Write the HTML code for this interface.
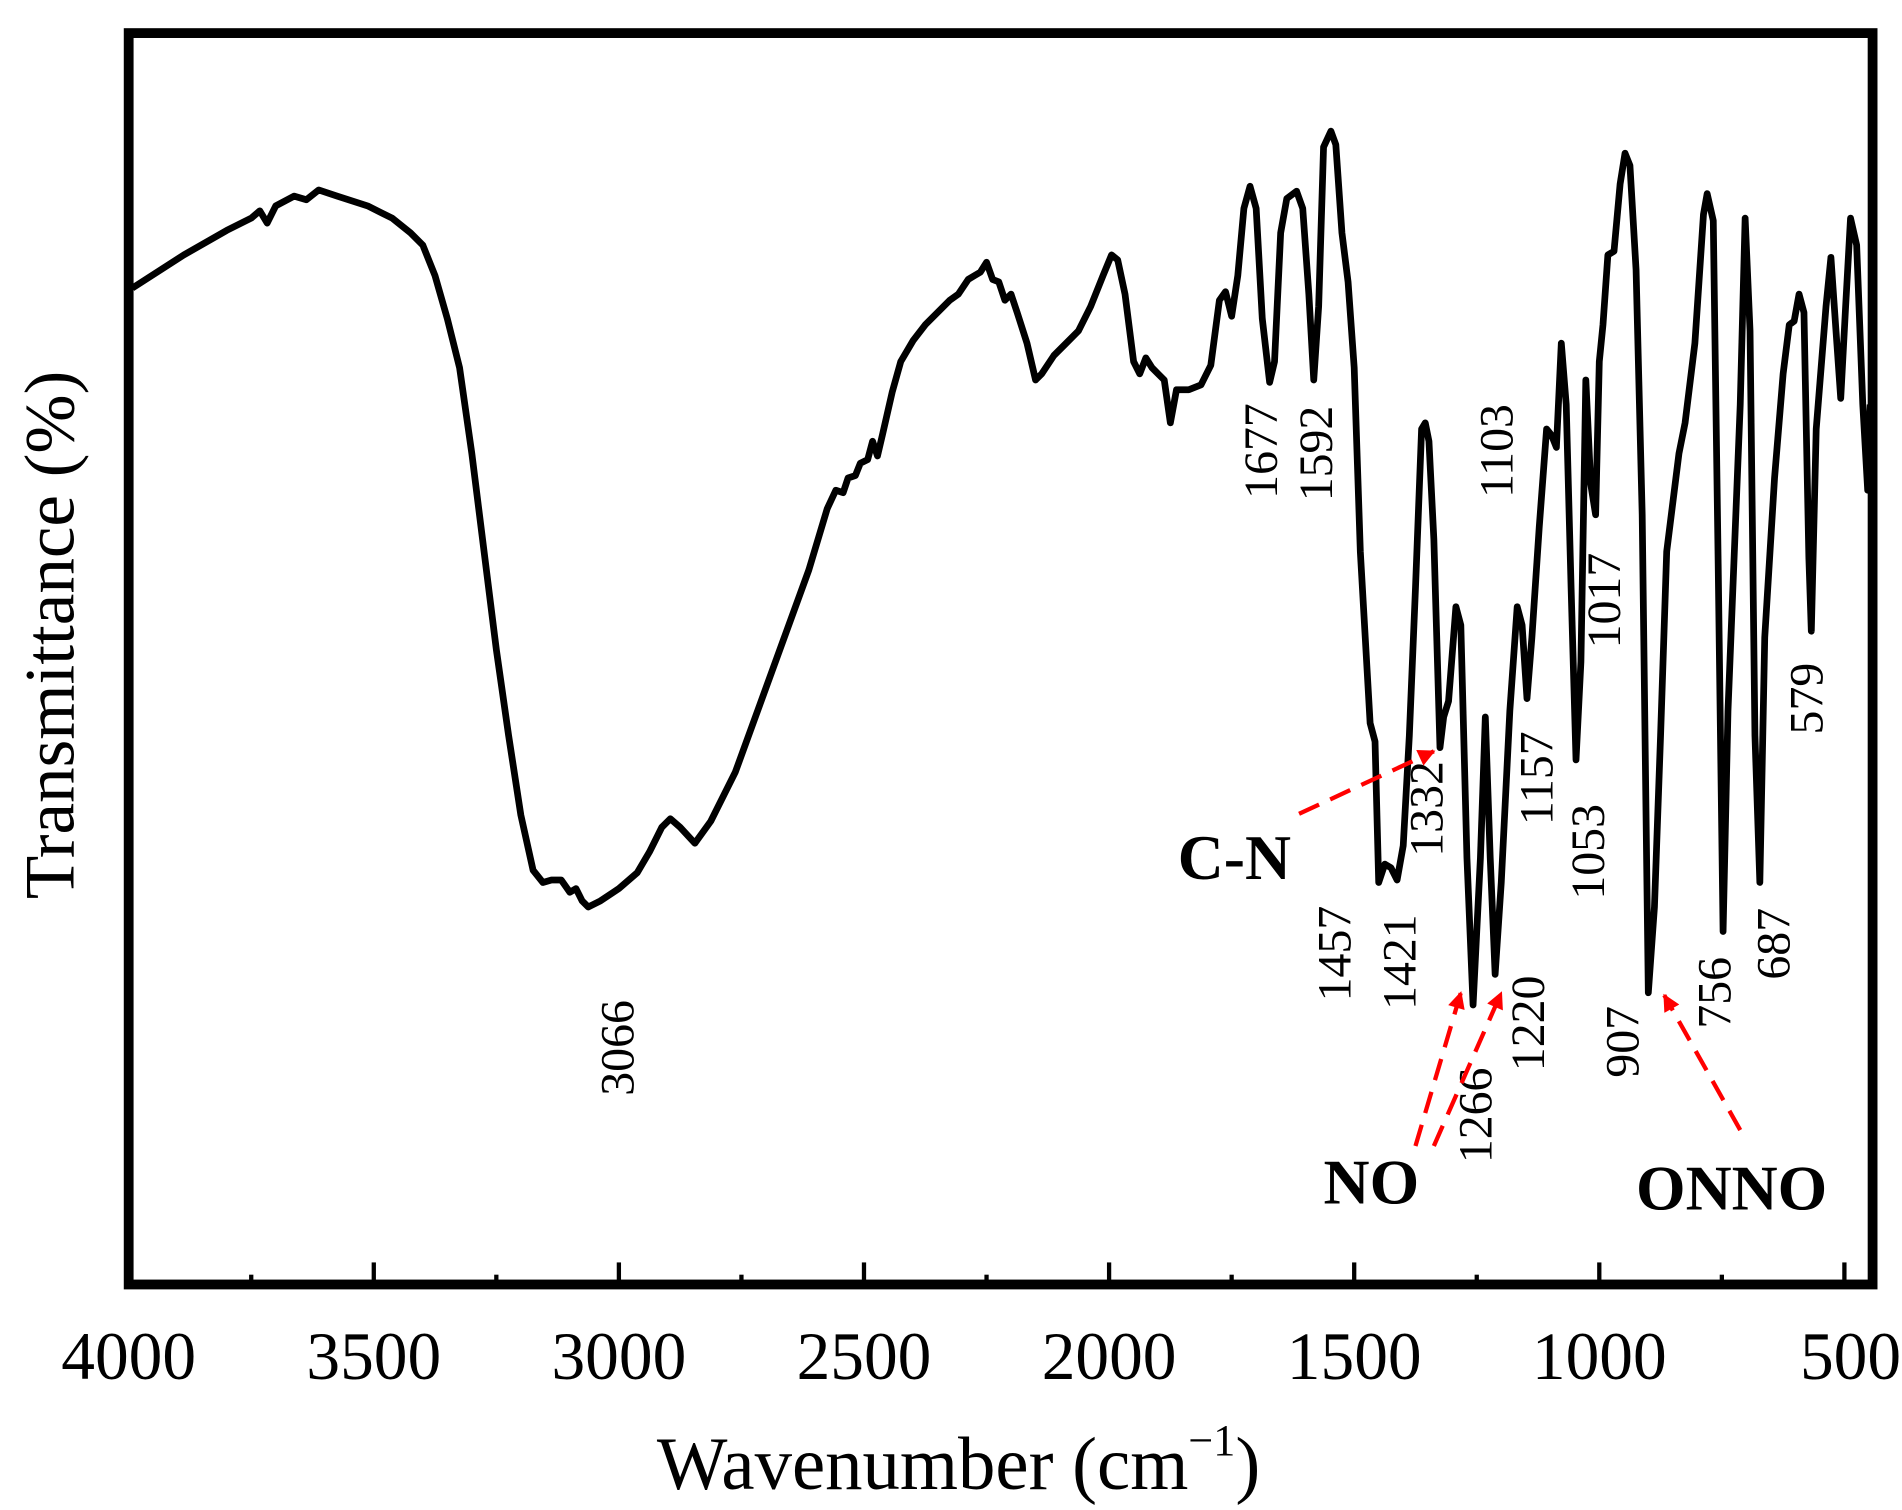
<!DOCTYPE html>
<html><head><meta charset="utf-8"><style>
html,body{margin:0;padding:0;background:#fff;}
svg{display:block;}
text{font-family:"Liberation Serif",serif;fill:#000;}
</style></head><body>
<svg width="1902" height="1510" viewBox="0 0 1552 1232" preserveAspectRatio="none" xmlns="http://www.w3.org/2000/svg">
<defs>
<marker id="ah" viewBox="0 0 10 10" refX="9" refY="5" markerWidth="5" markerHeight="4" orient="auto" markerUnits="strokeWidth">
<path d="M0,0 L10,5 L0,10 z" fill="#ff0000"/></marker>
</defs>
<rect x="105" y="27" width="1423" height="1021" fill="none" stroke="#000" stroke-width="8"/>
<g stroke="#000" stroke-width="3.5">
<line x1="305" y1="1048" x2="305" y2="1030"/><line x1="505" y1="1048" x2="505" y2="1030"/><line x1="705" y1="1048" x2="705" y2="1030"/><line x1="905" y1="1048" x2="905" y2="1030"/><line x1="1105" y1="1048" x2="1105" y2="1030"/><line x1="1305" y1="1048" x2="1305" y2="1030"/><line x1="1505" y1="1048" x2="1505" y2="1030"/>
<line x1="205" y1="1048" x2="205" y2="1040"/><line x1="405" y1="1048" x2="405" y2="1040"/><line x1="605" y1="1048" x2="605" y2="1040"/><line x1="805" y1="1048" x2="805" y2="1040"/><line x1="1005" y1="1048" x2="1005" y2="1040"/><line x1="1205" y1="1048" x2="1205" y2="1040"/><line x1="1405" y1="1040" x2="1405" y2="1048"/>
</g>
<g font-size="55" text-anchor="middle">
<text x="105" y="1125">4000</text><text x="305" y="1125">3500</text><text x="505" y="1125">3000</text><text x="705" y="1125">2500</text><text x="905" y="1125">2000</text><text x="1105" y="1125">1500</text><text x="1305" y="1125">1000</text><text x="1510" y="1125">500</text>
</g>
<text x="536" y="1215" font-size="61">Wavenumber (cm<tspan font-size="36" dy="-28">−1</tspan><tspan dy="28">)</tspan></text>
<text transform="translate(60,518) rotate(-90)" font-size="58" text-anchor="middle">Transmittance (%)</text>
<polyline fill="none" stroke="#000" stroke-width="5.5" stroke-linejoin="round" points="108,235 150,208 185,188 205,178 212,172 218,182 225,168 240,160 250,163 260,155 275,160 300,168 320,178 335,190 345,200 355,225 365,260 375,300 385,370 395,450 405,530 415,600 425,665 435,710 443,720 450,718 458,718 465,728 470,725 475,735 480,740 490,735 505,725 520,712 530,695 540,675 547,668 555,675 567,688 580,670 600,630 620,575 640,520 660,465 675,415 682,400 688,402 692,390 698,388 702,378 708,375 712,360 716,372 720,355 728,320 735,295 745,278 755,265 765,255 775,245 782,240 790,228 795,225 800,222 805,214 810,228 815,230 820,245 825,240 830,255 838,280 845,310 850,305 860,290 870,280 880,270 890,250 900,225 907,208 912,212 918,240 925,295 930,305 935,292 940,300 945,305 950,310 955,345 960,318 970,318 980,314 988,298 995,245 1000,238 1005,258 1010,225 1015,170 1020,152 1025,170 1030,260 1036,312 1040,295 1045,190 1050,162 1058,156 1063,170 1068,240 1072,310 1076,250 1080,120 1086,107 1090,118 1095,190 1100,230 1105,300 1110,450 1114,520 1118,590 1122,605 1125,720 1130,705 1135,708 1140,718 1145,690 1150,600 1155,480 1160,350 1163,345 1166,360 1170,440 1175,610 1178,585 1182,572 1188,495 1192,510 1197,700 1202,820 1208,700 1212,585 1216,700 1220,795 1225,720 1232,580 1238,495 1242,510 1246,570 1250,520 1256,430 1262,350 1266,355 1270,365 1274,280 1278,330 1282,480 1286,620 1290,540 1294,310 1298,395 1302,420 1305,295 1308,265 1312,208 1317,205 1322,150 1326,125 1330,135 1335,220 1340,420 1345,810 1350,740 1355,600 1360,450 1370,370 1375,345 1383,280 1390,175 1393,158 1398,180 1402,460 1406,760 1410,580 1420,330 1424,178 1428,270 1432,600 1436,720 1440,520 1448,390 1455,305 1460,265 1464,262 1468,240 1472,255 1476,455 1478,515 1482,350 1486,300 1490,250 1494,210 1498,268 1502,325 1506,250 1510,178 1515,200 1520,330 1524,400 1526,330"/>
<g font-size="39" text-anchor="middle">
<text transform="translate(1042,368) rotate(-90)">1677</text>
<text transform="translate(1087,370) rotate(-90)">1592</text>
<text transform="translate(1234,368) rotate(-90)">1103</text>
<text transform="translate(1322,490) rotate(-90)">1017</text>
<text transform="translate(1267,635) rotate(-90)">1157</text>
<text transform="translate(1309,695) rotate(-90)">1053</text>
<text transform="translate(1177,660) rotate(-90)">1332</text>
<text transform="translate(1487,570) rotate(-90)">579</text>
<text transform="translate(1102,778) rotate(-90)">1457</text>
<text transform="translate(1155,785) rotate(-90)">1421</text>
<text transform="translate(1260,835) rotate(-90)">1220</text>
<text transform="translate(1337,850) rotate(-90)">907</text>
<text transform="translate(1412,810) rotate(-90)">756</text>
<text transform="translate(1460,770) rotate(-90)">687</text>
<text transform="translate(1217,910) rotate(-90)">1266</text>
<text transform="translate(517,855) rotate(-90)">3066</text>
</g>
<g font-size="52" font-weight="bold">
<text x="961" y="717">C-N</text>
<text x="1080" y="982">NO</text>
<text x="1335" y="987">ONNO</text>
</g>
<g stroke="#ff0000" stroke-width="3.5" stroke-dasharray="18,10" fill="none">
<line x1="1060" y1="664" x2="1170" y2="613" marker-end="url(#ah)"/>
<line x1="1155" y1="935" x2="1192" y2="810" marker-end="url(#ah)"/>
<line x1="1170" y1="935" x2="1225" y2="810" marker-end="url(#ah)"/>
<line x1="1420" y1="922" x2="1358" y2="812" marker-end="url(#ah)"/>
</g>
</svg>
</body></html>
